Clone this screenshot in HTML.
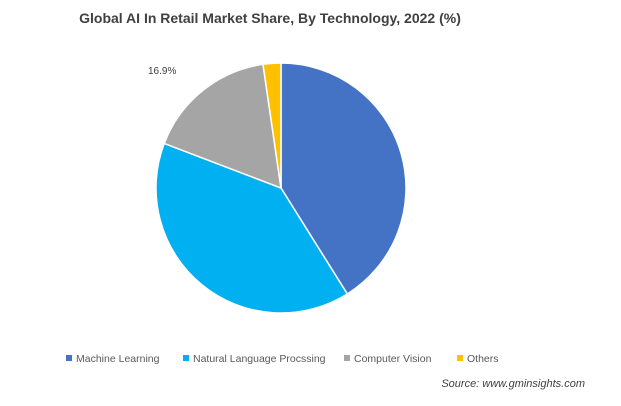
<!DOCTYPE html>
<html><head><meta charset="utf-8"><style>
body{margin:0;background:#fff;width:621px;height:401px;overflow:hidden;font-family:"Liberation Sans",Arial,sans-serif}
</style></head><body>
<svg width="621" height="401">
<text x="270" y="23" text-anchor="middle" font-size="14" font-weight="bold" fill="#404040">Global AI In Retail Market Share, By Technology, 2022 (%)</text>
<g id="slices"></g>
<text x="148" y="74" font-size="10" fill="#404040">16.9%</text>
<g id="legend" font-size="10.5" fill="#595959"></g>
<text x="585" y="387" text-anchor="end" font-size="11" font-style="italic" fill="#404040">Source: www.gminsights.com</text>
</svg>
<script>
const categories=["Machine Learning","Natural Language Procssing","Computer Vision","Others"];
const values=[41.1,39.7,16.9,2.3];
const colors=["#4472C4","#00B0F0","#A5A5A5","#FFC000"];
const cx=281,cy=188,r=125,NS="http://www.w3.org/2000/svg";
const g=document.getElementById('slices');
const total=values.reduce((a,b)=>a+b,0);
let a0=0;
values.forEach((v,i)=>{
 const a1=a0+v/total*2*Math.PI;
 const p=(a)=>[cx+r*Math.sin(a),cy-r*Math.cos(a)];
 const [x0,y0]=p(a0),[x1,y1]=p(a1);
 const path=document.createElementNS(NS,'path');
 path.setAttribute('d',`M${cx},${cy}L${x0},${y0}A${r},${r} 0 ${a1-a0>Math.PI?1:0} 1 ${x1},${y1}Z`);
 path.setAttribute('fill',colors[i]);path.setAttribute('stroke','#fff');path.setAttribute('stroke-width','1.5');
 
 
 g.appendChild(path);a0=a1;
});
const lg=document.getElementById('legend');
const lx=[66,183,344,457];
categories.forEach((c,i)=>{
 const s=document.createElementNS(NS,'rect');
 s.setAttribute('x',lx[i]);s.setAttribute('y',355);s.setAttribute('width',6);s.setAttribute('height',6);s.setAttribute('fill',colors[i]);
 
 
 lg.appendChild(s);
 const t=document.createElementNS(NS,'text');
 t.setAttribute('x',lx[i]+10);t.setAttribute('y',362);t.textContent=c;
 
 
 lg.appendChild(t);
});
</script>
</body></html>
